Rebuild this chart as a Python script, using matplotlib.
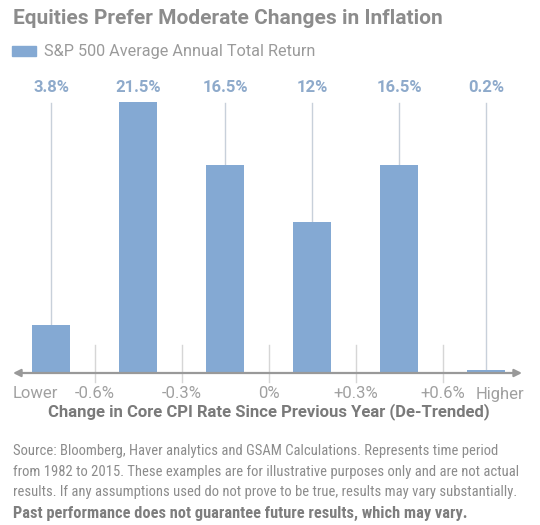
import matplotlib
matplotlib.use("Agg")
import matplotlib.pyplot as plt

# chart data
buckets = ["Lower", "-0.6%", "-0.3%", "0%", "+0.3%", "+0.6%", "Higher"]
returns = [3.8, 21.5, 16.5, 12.0, 16.5, 0.2]
return_labels = ["3.8%", "21.5%", "16.5%", "12%", "16.5%", "0.2%"]
note_lines = [
    "Source: Bloomberg, Haver analytics and GSAM Calculations. Represents time period",
    "from 1982 to 2015. These examples are for illustrative purposes only and are not actual",
    "results. If any assumptions used do not prove to be true, results may vary substantially.",
]

BAR = "#84a9d3"
LABEL = "#8eaacb"
GRAY = "#8c8c8c"
NARROW = ["Liberation Sans Narrow", "Roboto Condensed", "DejaVu Sans"]

W, H = 540, 525
fig = plt.figure(figsize=(W / 100, H / 100), dpi=100)


def fx(px):
    return px / W


def fy(py):
    return 1 - py / H


# axes: x in bar units (bar i centred at 51 + 87*i px), y in percent
base_px, top_px = 373, 80
px_per_pct = 12.6
ax = fig.add_axes([fx(13), fy(base_px), fx(522) - fx(13), (base_px - top_px) / H])
ax.set_xlim((13 - 51) / 87, (522 - 51) / 87)
ax.set_ylim(0, (base_px - top_px) / px_per_pct)
ax.axis("off")

xs = range(len(returns))
ax.bar(xs, returns, width=0.44, color=BAR, zorder=2)

label_y = (base_px - 87) / px_per_pct
line_top = (base_px - 103) / px_per_pct
for x, v, lab in zip(xs, returns, return_labels):
    ax.text(x, label_y, lab, ha="center", va="center", color=LABEL,
            fontsize=12, fontweight="bold", family="Roboto")
    if v < line_top:
        ax.plot([x, x], [v, line_top], color="#c8d0da", lw=1, zorder=1)

# bucket boundary ticks
for i in range(len(returns) - 1):
    ax.plot([i + 0.5, i + 0.5], [(base_px - 345) / px_per_pct, (base_px - 382) / px_per_pct],
            color="#d6d6d6", lw=1, clip_on=False, zorder=1)

# double-headed axis arrow
xl = ax.get_xlim()
ax.annotate("", xy=(xl[1], 0), xytext=(xl[0], 0),
            arrowprops=dict(arrowstyle="<|-|>", color="#999999", lw=1.6,
                            mutation_scale=11, shrinkA=0, shrinkB=0),
            annotation_clip=False, zorder=3)

# tick labels
tick_x = [-0.18] + [i + 0.5 for i in range(len(returns) - 1)] + [5.16]
for x, lab in zip(tick_x, buckets):
    ax.text(x, (base_px - 394) / px_per_pct, lab, ha="center", va="center",
            color="#a0a0a0", fontsize=12, family="Roboto")

fig.text(fx(269), fy(412), "Change in Core CPI Rate Since Previous Year (De-Trended)",
         ha="center", va="center", color="#7a7a7a", fontsize=12,
         fontweight="bold", family="Roboto")

# title and legend
fig.text(fx(13), fy(18), "Equities Prefer Moderate Changes in Inflation",
         ha="left", va="center", color=GRAY, fontsize=15, fontweight="bold",
         family="Roboto")
fig.patches.append(plt.Rectangle((fx(12), fy(56)), fx(24), 10 / H,
                                 transform=fig.transFigure, color=BAR))
fig.text(fx(44), fy(51), "S&P 500 Average Annual Total Return", ha="left",
         va="center", color="#9a9a9a", fontsize=11.7, family="Roboto")

# footnote
for py, line in zip([451, 472, 492], note_lines):
    fig.text(fx(13), fy(py), line, ha="left", va="center", color="#8c8c8c",
             fontsize=10.5, family=NARROW)
fig.text(fx(13), fy(513), "Past performance does not guarantee future results, which may vary.",
         ha="left", va="center", color="#7e7e7e", fontsize=11.8, fontweight="bold",
         family=NARROW)

fig.savefig("out.png", dpi=100)
